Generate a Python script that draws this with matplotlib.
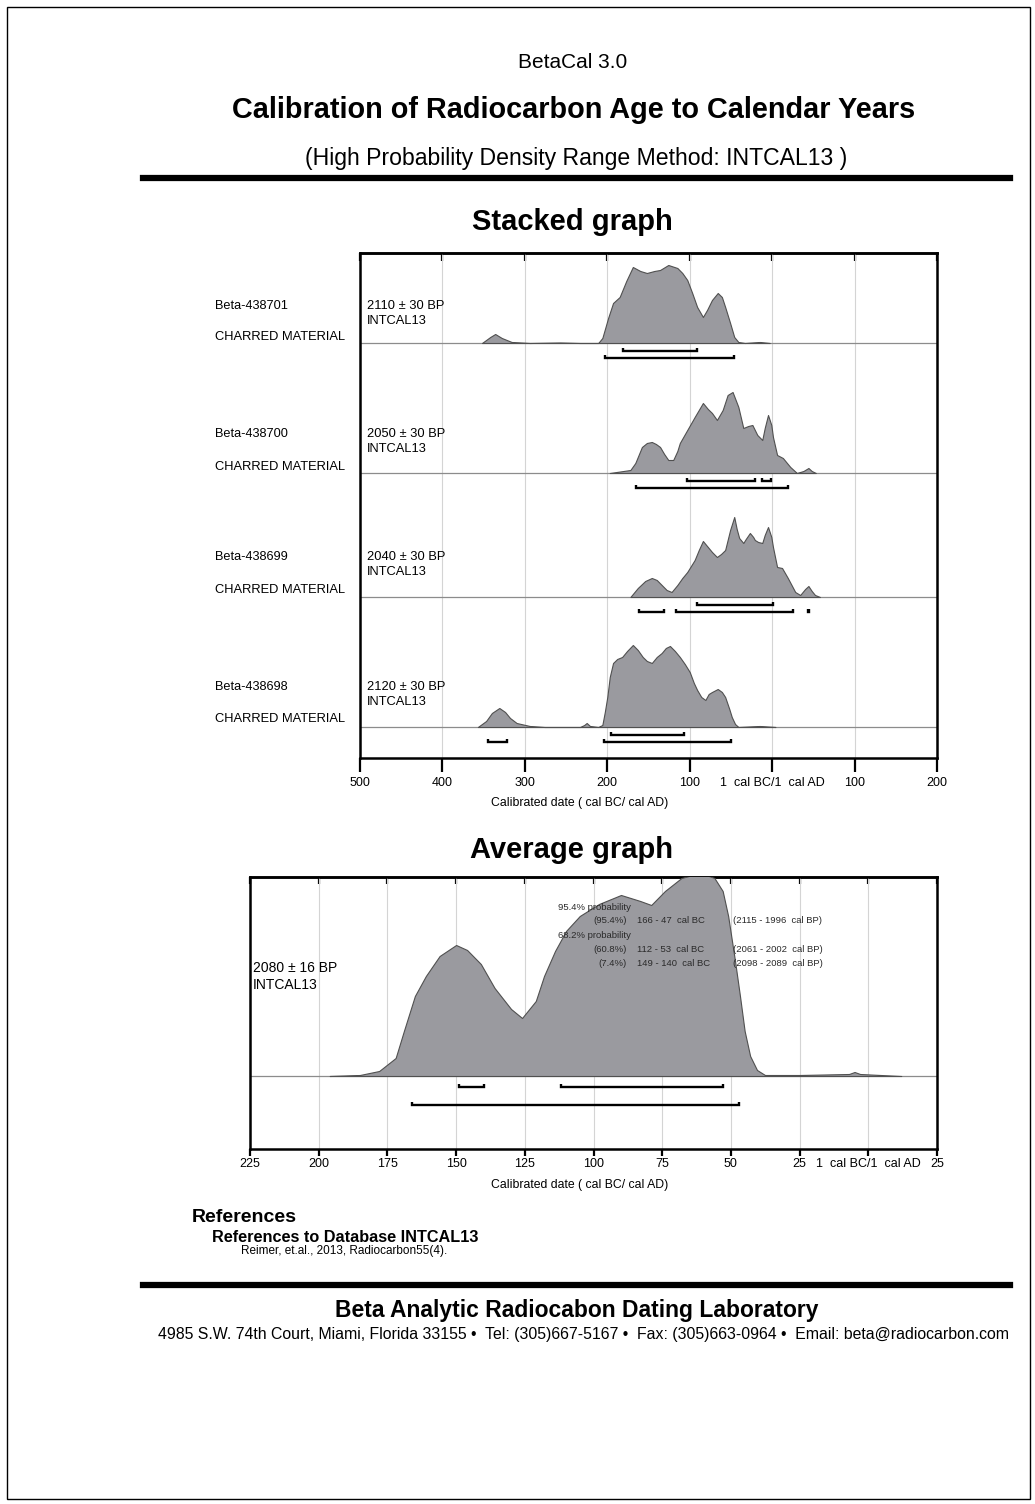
import numpy as np
import matplotlib
matplotlib.use("Agg")
import matplotlib.pyplot as plt
from matplotlib.lines import Line2D
from matplotlib.patches import Rectangle

W, H = 1035, 1504
plt.rcParams['font.family'] = ['Liberation Sans', 'DejaVu Sans']

# ----------------------------------------------------------------------
# data (years: negative = cal BC, positive = cal AD; prob = relative)
# ----------------------------------------------------------------------
samples = ["Beta-438701", "Beta-438700", "Beta-438699", "Beta-438698"]
materials = ["CHARRED MATERIAL", "CHARRED MATERIAL", "CHARRED MATERIAL", "CHARRED MATERIAL"]
ages = ["2110 ± 30 BP", "2050 ± 30 BP", "2040 ± 30 BP", "2120 ± 30 BP"]
curve = "INTCAL13"

s1_year = [-352, -342, -336, -328, -316, -294, -257, -233, -211, -206, -199, -193, -185, -177,
           -169, -160, -152, -143, -136, -126, -115, -109, -103, -97, -91, -84, -79, -73,
           -66, -61, -57, -51, -46, -41, -33, -15, -3]
s1_prob = [0, 6, 9, 5, 1, 0, 0.5, 0, 0, 5, 25, 40, 46, 62,
           76, 72, 70, 72, 73, 78, 75, 70, 63, 50, 36, 26, 33, 43,
           50, 46, 36, 20, 6, 1, 0, 1, 0]

s2_year = [-197, -172, -166, -158, -152, -146, -141, -136, -131, -126, -120, -115, -112, -103,
           -94, -84, -78, -73, -67, -60, -54, -48, -41, -35, -29, -24, -18, -12,
           -9, -5, -1, 1, 6, 13, 22, 30, 38, 44, 48, 53]
s2_prob = [0, 3, 10, 26, 30, 31, 29, 26, 19, 13, 13, 22, 30, 43,
           56, 70, 64, 60, 53, 63, 78, 81, 66, 45, 47, 48, 38, 33,
           45, 58, 48, 36, 18, 15, 6, 0, 2, 5, 2, 0]

s3_year = [-172, -163, -154, -146, -140, -134, -128, -122, -115, -109, -103, -94, -89, -84,
           -78, -73, -67, -62, -57, -51, -46, -43, -40, -35, -32, -27, -23, -21,
           -17, -12, -9, -5, -1, 1, 6, 12, 19, 28, 34, 40, 44, 48, 52, 58]
s3_prob = [0, 9, 16, 19, 17, 12, 7, 5, 12, 19, 25, 37, 47, 56,
           50, 45, 40, 43, 47, 67, 80, 68, 59, 54, 58, 64, 60, 57,
           55, 54, 62, 70, 60, 50, 30, 29, 19, 5, 2, 8, 11, 6, 2, 0]

s4_year = [-357, -347, -340, -331, -324, -318, -310, -294, -276, -233, -228, -225, -221, -211,
           -206, -203, -200, -197, -193, -188, -182, -176, -169, -163, -157, -152, -146, -140,
           -134, -129, -124, -118, -112, -106, -100, -95, -91, -86, -81, -77, -73, -66,
           -61, -57, -52, -49, -45, -41, -15, 4]
s4_prob = [0, 6, 14, 19, 15, 9, 4, 1, 0, 0, 2, 4, 1, 0,
           2, 15, 30, 50, 64, 68, 70, 76, 82, 77, 70, 66, 64, 70,
           74, 79, 81, 76, 70, 63, 55, 44, 37, 30, 27, 33, 35, 38,
           35, 30, 18, 10, 3, 0, 1, 0]

# calibrated ranges (68.2 % and 95.4 %)
s1_r68 = [(-181, -91)]
s1_r95 = [(-203, -46)]
s2_r68 = [(-103, -21), (-12, -1)]
s2_r95 = [(-165, 19)]
s3_r68 = [(-91, 1)]
s3_r95 = [(-161, -131), (-117, 25), (43, 45)]
s4_r68 = [(-196, -107)]
s4_r95 = [(-345, -322), (-204, -50)]

stack_years = [s1_year, s2_year, s3_year, s4_year]
stack_probs = [s1_prob, s2_prob, s3_prob, s4_prob]
stack_r68 = [s1_r68, s2_r68, s3_r68, s4_r68]
stack_r95 = [s1_r95, s2_r95, s3_r95, s4_r95]

stack_ticks = [-500, -400, -300, -200, -100, 0, 100, 200]
stack_ticklabels = ["500", "400", "300", "200", "100", "1  cal BC/1  cal AD", "100", "200"]

avg_age = "2080 ± 16 BP"
avg_year = [-196, -185, -178, -172, -169, -165, -161, -156, -150, -146, -141, -136, -130, -126,
            -121, -118, -114, -110, -105, -98, -90, -83, -79, -74, -68, -61, -56, -53,
            -51, -48.5, -46.7, -45, -43, -40.5, -37.6, -25, -7, -5, -3, 12]
avg_prob = [0, 1, 5, 18, 45, 80, 100, 120, 131, 126, 112, 88, 67, 58,
            75, 100, 125, 145, 160, 172, 181, 175, 171, 185, 198, 203, 198, 185,
            160, 115, 80, 45, 20, 6, 1, 1, 2, 4, 2, 0]
avg_r68 = [(-149, -140), (-112, -53)]
avg_r95 = [(-166, -47)]
avg_ticks = [-225, -200, -175, -150, -125, -100, -75, -50, -25, 0, 25]
avg_ticklabels = ["225", "200", "175", "150", "125", "100", "75", "50", "25",
                  "1  cal BC/1  cal AD", "25"]

avg_pct = ["(95.4%)", "(60.8%)", "(7.4%)"]
avg_rng = ["166 - 47  cal BC", "112 - 53  cal BC", "149 - 140  cal BC"]
avg_bp = ["(2115 - 1996  cal BP)", "(2061 - 2002  cal BP)", "(2098 - 2089  cal BP)"]

FILL = "#9a9a9f"
EDGE = "#505050"


def fx(x):
    return x / W


def fy(y):
    return 1 - y / H


def px_axes(fig, x0, y0, x1, y1):
    return fig.add_axes([fx(x0), fy(y1), (x1 - x0) / W, (y1 - y0) / H])


def ftext(fig, x, y, s, **kw):
    kw.setdefault("va", "center")
    fig.text(fx(x), fy(y), s, **kw)


def draw_range(ax, lo, hi, y, cap=3.5):
    ax.plot([lo, lo, hi, hi], [y - cap, y, y, y - cap], color="black", lw=1.7,
            solid_capstyle="butt", solid_joinstyle="miter", zorder=5)


def style_axes(ax, ticks, labels, tick_len=10, pad=4, top_len=6):
    ax.set_xticks(ticks)
    ax.set_xticklabels(labels, fontsize=9)
    ax.set_yticks([])
    ax.tick_params(axis="x", direction="out", length=tick_len, width=1.6, pad=pad)
    for sp in ax.spines.values():
        sp.set_linewidth(1.8)
    ax.grid(axis="x", color="#d4d4d4", lw=0.8)
    ax.set_axisbelow(True)
    top = ax.secondary_xaxis("top")
    top.set_xticks(ticks)
    top.tick_params(axis="x", direction="in", length=top_len, width=1.6, labeltop=False)
    top.spines["top"].set_linewidth(1.8)


fig = plt.figure(figsize=(W / 100, H / 100), dpi=100)

# page frame and header
fig.add_artist(Rectangle((fx(7), fy(1499)), fx(1023), 1492 / H, fill=False, lw=1.0,
                         edgecolor="black", transform=fig.transFigure))
ftext(fig, 573, 63, "BetaCal 3.0", ha="center", fontsize=15)
ftext(fig, 574, 110, "Calibration of Radiocarbon Age to Calendar Years", ha="center",
      fontsize=20.8, fontweight="bold")
ftext(fig, 576, 158, "(High Probability Density Range Method: INTCAL13 )", ha="center",
      fontsize=16.6)
fig.add_artist(Line2D([fx(143), fx(1010)], [fy(178), fy(178)], lw=4.5, color="black"))
ftext(fig, 572, 222, "Stacked graph", ha="center", fontsize=21, fontweight="bold")

# ---- stacked graph ---------------------------------------------------
ax = px_axes(fig, 360, 253, 937, 758)
ax.set_xlim(-500, 200)
ax.set_ylim(758, 253)
baselines = [343, 473, 597, 727]
label_y = [306, 434, 557, 687]
mat_y = [337, 467, 590, 719]
for i in range(len(samples)):
    base = baselines[i]
    yrs = np.array(stack_years[i], dtype=float)
    pr = np.array(stack_probs[i], dtype=float)
    ax.axhline(base, color="#8c8c8c", lw=0.9, zorder=2)
    ax.fill_between(yrs, base, base - pr, facecolor=FILL, edgecolor=EDGE, lw=0.8, zorder=3)
    for lo, hi in stack_r68[i]:
        draw_range(ax, lo, hi, base + 8)
    for lo, hi in stack_r95[i]:
        draw_range(ax, lo, hi, base + 15)
    ftext(fig, 215, label_y[i], samples[i], fontsize=9.2)
    ftext(fig, 215, mat_y[i], materials[i], fontsize=9.3)
    ftext(fig, 367, label_y[i], ages[i], fontsize=9.3)
    ftext(fig, 367, label_y[i] + 15, curve, fontsize=9.3)
style_axes(ax, stack_ticks, stack_ticklabels, tick_len=10, pad=4, top_len=6)
ftext(fig, 580, 803, "Calibrated date ( cal BC/ cal AD)", ha="center", fontsize=8.8)

# ---- average graph ---------------------------------------------------
ftext(fig, 572, 850, "Average graph", ha="center", fontsize=21, fontweight="bold")
ax2 = px_axes(fig, 250, 877, 937, 1149)
ax2.set_xlim(-225, 25)
ax2.set_ylim(1149, 877)
base = 1076
ax2.axhline(base, color="#8c8c8c", lw=0.9, zorder=2)
ax2.fill_between(np.array(avg_year), base, base - np.array(avg_prob), facecolor=FILL,
                 edgecolor=EDGE, lw=0.8, zorder=3)
for lo, hi in avg_r68:
    draw_range(ax2, lo, hi, base + 11)
for lo, hi in avg_r95:
    draw_range(ax2, lo, hi, base + 29)
style_axes(ax2, avg_ticks, avg_ticklabels, tick_len=5, pad=1.5, top_len=5)
ftext(fig, 580, 1185, "Calibrated date ( cal BC/ cal AD)", ha="center", fontsize=8.8)
ftext(fig, 253, 968, avg_age, fontsize=10)
ftext(fig, 253, 985, curve, fontsize=10)

tc = "#2a2a2a"
ftext(fig, 558, 907, "95.4% probability", fontsize=6.8, color=tc, zorder=6)
ftext(fig, 558, 936, "68.2% probability", fontsize=6.8, color=tc, zorder=6)
for k, yy in enumerate([921, 950, 964]):
    ftext(fig, 627, yy, avg_pct[k], ha="right", fontsize=6.8, color=tc, zorder=6)
    ftext(fig, 637, yy, avg_rng[k], fontsize=6.8, color=tc, zorder=6)
    ftext(fig, 733, yy, avg_bp[k], fontsize=6.8, color=tc, zorder=6)

# ---- references and footer -------------------------------------------
ftext(fig, 192, 1218, "References", fontsize=14, fontweight="bold")
ftext(fig, 212, 1237, "References to Database INTCAL13", fontsize=11.7, fontweight="bold")
ftext(fig, 241, 1251, "Reimer, et.al., 2013, Radiocarbon55(4).", fontsize=8.5)
fig.add_artist(Line2D([fx(143), fx(1010)], [fy(1285), fy(1285)], lw=4.5, color="black"))
ftext(fig, 577, 1310, "Beta Analytic Radiocabon Dating Laboratory", ha="center",
      fontsize=16.5, fontweight="bold")
ftext(fig, 584, 1335, "4985 S.W. 74th Court, Miami, Florida 33155 \u2022  Tel: (305)667-5167 \u2022  "
      "Fax: (305)663-0964 \u2022  Email: beta@radiocarbon.com", ha="center", fontsize=11.4,
      family=["Liberation Sans Narrow", "Liberation Sans", "DejaVu Sans"])

fig.savefig("out.png", dpi=100)
